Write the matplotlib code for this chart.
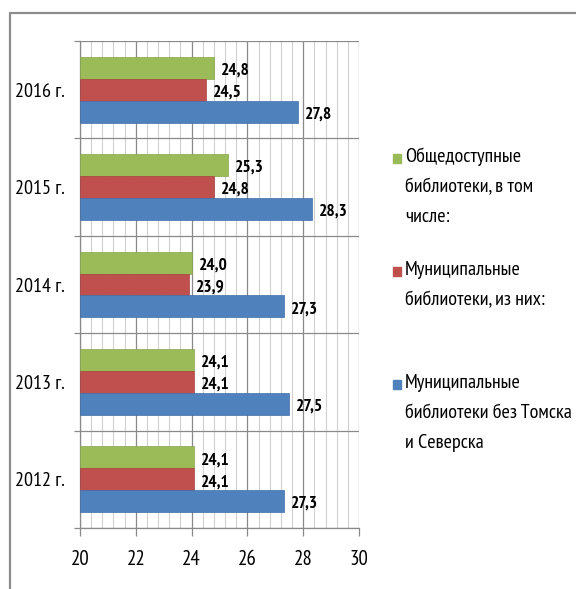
import matplotlib
matplotlib.use('Agg')
import matplotlib.pyplot as plt
import numpy as np
from matplotlib.ticker import MultipleLocator, FixedLocator
from matplotlib.lines import Line2D
from matplotlib.patches import Rectangle

plt.rcParams['font.family'] = ['PT Sans Narrow', 'Carlito', 'DejaVu Sans']

# данные
years = ['2012 г.', '2013 г.', '2014 г.', '2015 г.', '2016 г.']
obshedost = [24.1, 24.1, 24.0, 25.3, 24.8]
munic = [24.1, 24.1, 23.9, 24.8, 24.5]
munic_bez = [27.3, 27.5, 27.3, 28.3, 27.8]
series_names = ['Общедоступные\nбиблиотеки, в том\nчисле:',
                'Муниципальные\nбиблиотеки, из них:',
                'Муниципальные\nбиблиотеки без Томска\nи Северска']
colors = ['#9BBB59', '#C0504D', '#4F81BD']
edges = ['#86a34a', '#a8423f', '#3f6fa8']

fig = plt.figure(figsize=(5.76, 5.89), dpi=100)
ax = fig.add_axes([80/576, 1-528/589, 279/576, 487/589])

y = np.arange(len(years))
h = 0.225
base = 20
ax.barh(y + h, np.array(obshedost) - base, h, left=base, color=colors[0], edgecolor=edges[0], linewidth=0.5, zorder=3)
ax.barh(y, np.array(munic) - base, h, left=base, color=colors[1], edgecolor=edges[1], linewidth=0.5, zorder=3)
ax.barh(y - h, np.array(munic_bez) - base, h, left=base, color=colors[2], edgecolor=edges[2], linewidth=0.5, zorder=3)

# подписи значений
for vals, off in [(obshedost, h), (munic, 0), (munic_bez, -h)]:
    for i, v in enumerate(vals):
        ax.annotate(f'{v:.1f}'.replace('.', ','), (v, i + off), xytext=(5, -2),
                    textcoords='offset points', va='center', ha='left',
                    fontsize=12.5, fontweight='bold', zorder=4)

ax.set_xlim(20, 30)
ax.set_ylim(-0.5, len(years) - 0.5)
ax.xaxis.set_major_locator(MultipleLocator(2))
ax.xaxis.set_minor_locator(MultipleLocator(0.4))
ax.yaxis.set_major_locator(FixedLocator(np.arange(-0.5, len(years), 1)))
ax.yaxis.set_minor_locator(FixedLocator(y))
ax.yaxis.set_major_formatter(plt.NullFormatter())
ax.yaxis.set_minor_formatter(plt.FixedFormatter(years))

ax.grid(axis='x', which='major', color='#8a8a8a', linewidth=0.9, zorder=0)
ax.grid(axis='x', which='minor', color='#d0d0d0', linewidth=0.8, zorder=0)
ax.grid(axis='y', which='major', color='#8a8a8a', linewidth=0.9, zorder=0)

ax.tick_params(axis='x', which='major', length=6, width=0.9, color='#8a8a8a', pad=9.5, labelsize=15)
ax.tick_params(axis='x', which='minor', length=0)
ax.tick_params(axis='y', which='major', length=4, width=0.9, color='#8a8a8a')
ax.tick_params(axis='y', which='minor', length=0, pad=11, labelsize=14.5)

for s in ['top', 'right']:
    ax.spines[s].set_visible(False)
for s in ['left', 'bottom']:
    ax.spines[s].set_color('#8a8a8a')
    ax.spines[s].set_linewidth(0.9)

# легенда
leg_y = [159, 272, 385]
for name, c, ly in zip(series_names, colors, leg_y):
    fig.add_artist(Rectangle((393/576, 1 - (ly + 4)/589), 8/576, 9/589,
                             transform=fig.transFigure, color=c))
    fig.text(405/576, 1 - (ly - 11)/589, name, fontsize=14.5, va='top', ha='left',
             linespacing=1.85)

# рамка
fig.add_artist(Line2D([9.5/576, 9.5/576, 1], [0, 1 - 12.5/589, 1 - 12.5/589],
                      transform=fig.transFigure, color='#8c8c8c', linewidth=1.6))

fig.savefig('out.png', dpi=100)
